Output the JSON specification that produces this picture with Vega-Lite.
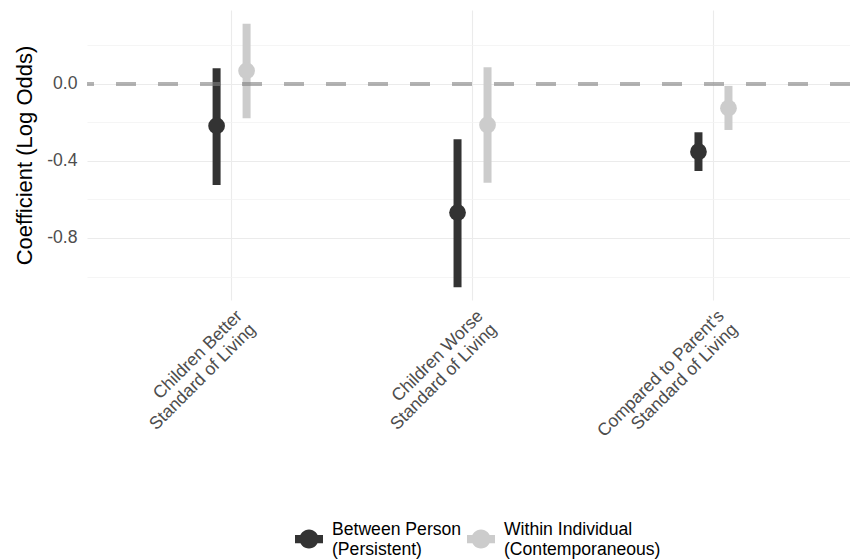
{
  "$schema": "https://vega.github.io/schema/vega-lite/v6.json",
  "width": 763,
  "height": 290,
  "autosize": "none",
  "padding": {"left": 87, "top": 10, "right": 0, "bottom": 259},
  "background": "white",
  "config": {
    "view": {"stroke": null},
    "font": "Liberation Sans",
    "axis": {"labelFont": "Liberation Sans", "titleFont": "Liberation Sans", "domain": false, "ticks": false}
  },
  "data": {
    "values": [
      {"outcome": "Children Better Standard of Living", "type": "Between Person (Persistent)", "est": -0.218, "lo": -0.525, "hi": 0.082},
      {"outcome": "Children Better Standard of Living", "type": "Within Individual (Contemporaneous)", "est": 0.068, "lo": -0.178, "hi": 0.312},
      {"outcome": "Children Worse Standard of Living", "type": "Between Person (Persistent)", "est": -0.668, "lo": -1.056, "hi": -0.287},
      {"outcome": "Children Worse Standard of Living", "type": "Within Individual (Contemporaneous)", "est": -0.213, "lo": -0.513, "hi": 0.087},
      {"outcome": "Compared to Parent's Standard of Living", "type": "Between Person (Persistent)", "est": -0.352, "lo": -0.452, "hi": -0.251},
      {"outcome": "Compared to Parent's Standard of Living", "type": "Within Individual (Contemporaneous)", "est": -0.126, "lo": -0.239, "hi": -0.01}
    ]
  },
  "layer": [
    {
      "mark": {"type": "rule", "strokeWidth": 8, "strokeCap": "butt", "opacity": 1},
      "encoding": {
        "x": {
          "field": "outcome", "type": "nominal", "sort": null,
          "scale": {"type": "band", "paddingInner": 0, "paddingOuter": 0.1, "range": [0, 771]},
          "axis": {
            "title": null, "bandPosition": 0.5, "grid": true, "gridColor": "#ebebeb", "gridWidth": 1.1,
            "labelAngle": -45, "labelAlign": "right", "labelBaseline": "middle",
            "labelFontSize": 17.6, "labelColor": "#4d4d4d", "labelLineHeight": 19,
            "labelOffset": 8, "labelPadding": 13, "labelLimit": 0,
            "labelExpr": "[slice(datum.label, 0, indexof(datum.label, ' Standard')), slice(datum.label, indexof(datum.label, ' Standard') + 1)]"
          }
        },
        "xOffset": {"field": "type", "type": "nominal", "scale": {"type": "point", "padding": 0, "range": [105.5, 135.5]}},
        "y": {
          "field": "lo", "type": "quantitative",
          "scale": {"domain": [-1.122, 0.384], "nice": false, "zero": false},
          "axis": {
            "title": "Coefficient (Log Odds)", "titleFontSize": 22, "titleColor": "black", "titleFontWeight": "normal", "titlePadding": 10,
            "values": [-1.0, -0.8, -0.6, -0.4, -0.2, 0, 0.2],
            "labelExpr": "round(datum.value * 10) % 4 == 0 ? replace(format(datum.value, '.1f'), '\u2212', '-') : ''",
            "labelFontSize": 17.6, "labelColor": "#4d4d4d", "labelPadding": 10,
            "grid": true,
            "gridColor": {"condition": {"test": "round(datum.value * 10) % 4 == 0", "value": "#ebebeb"}, "value": "#f2f2f2"},
            "gridWidth": {"condition": {"test": "round(datum.value * 10) % 4 == 0", "value": 1.1}, "value": 0.8}
          }
        },
        "y2": {"field": "hi"},
        "color": {
          "field": "type", "type": "nominal",
          "scale": {"domain": ["Between Person (Persistent)", "Within Individual (Contemporaneous)"], "range": ["#333333", "#cccccc"]},
          "legend": {
            "title": null, "orient": "none", "legendX": 208, "legendY": 506, "direction": "horizontal",
            "padding": 0, "offset": 0,
            "symbolType": "M-1,0.33L1,0.33L1,0.91L-1,0.91Z M0.68,0.62 A0.68,0.68 0 1,1 -0.68,0.62 A0.68,0.68 0 1,1 0.68,0.62 Z",
            "symbolSize": 784, "symbolStrokeWidth": 0,
            "labelFontSize": 17.6, "labelColor": "black", "labelLineHeight": 19.5, "labelOffset": 9, "labelLimit": 0,
            "labelBaseline": "middle", "columnPadding": 5,
            "labelExpr": "[slice(datum.label, 0, indexof(datum.label, ' (')), slice(datum.label, indexof(datum.label, ' (') + 1)]",
            "encode": {
              "symbols": {"update": {"fill": {"scale": "color", "field": "value"}, "strokeWidth": {"value": 0}, "opacity": {"value": 1}}}
            }
          }
        }
      }
    },
    {
      "mark": {"type": "point", "filled": true, "shape": "circle", "size": 280, "opacity": 1, "strokeWidth": 0},
      "encoding": {
        "x": {"field": "outcome", "type": "nominal", "sort": null},
        "xOffset": {"field": "type", "type": "nominal"},
        "y": {"field": "est", "type": "quantitative"},
        "color": {"field": "type", "type": "nominal"}
      }
    },
    {
      "data": {"values": [{"ref": 0}]},
      "mark": {"type": "rule", "strokeDash": [20, 22], "strokeWidth": 4, "color": "#808080", "opacity": 0.6},
      "encoding": {"y": {"field": "ref", "type": "quantitative"}}
    }
  ]
}
